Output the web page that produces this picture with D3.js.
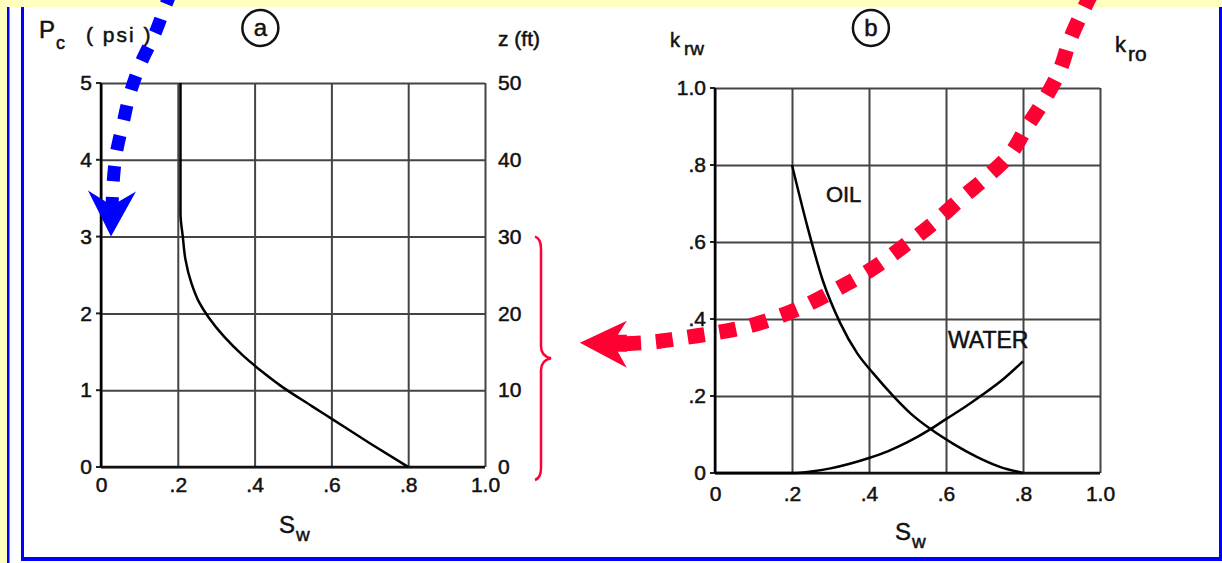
<!DOCTYPE html>
<html>
<head>
<meta charset="utf-8">
<script src="https://cdn.jsdelivr.net/npm/d3@7"></script>
<style>
  html, body { margin: 0; padding: 0; background: #ffffc0; }
  svg { display: block; font-family: "Liberation Sans", Arial, sans-serif; }
  svg text { fill: #111; stroke: #111; stroke-width: 0.5px; }
</style>
</head>
<body>
<svg id="viz" width="1222" height="563"></svg>
<script>
(function () {
  'use strict';

  // panel a: capillary pressure vs water saturation
  const pcSw  = [0.8, 0.7, 0.6, 0.55, 0.47, 0.42, 0.37, 0.32, 0.28, 0.255, 0.235, 0.22, 0.213, 0.207, 0.207];
  const pcVal = [0, 0.31, 0.63, 0.79, 1.05, 1.24, 1.45, 1.7, 1.95, 2.15, 2.4, 2.7, 3.0, 3.3, 5];

  // panel b: relative permeability
  const oilSw  = [0.2, 0.24, 0.28, 0.325, 0.37, 0.41, 0.465, 0.51, 0.56, 0.62, 0.68, 0.74, 0.8];
  const oilKr  = [0.8, 0.64, 0.5, 0.39, 0.31, 0.26, 0.198, 0.153, 0.114, 0.075, 0.042, 0.016, 0];
  const watSw  = [0, 0.2, 0.25, 0.3, 0.35, 0.4, 0.45, 0.5, 0.56, 0.6, 0.65, 0.69, 0.75, 0.8];
  const watKr  = [0, 0, 0.004, 0.012, 0.024, 0.039, 0.057, 0.08, 0.114, 0.14, 0.172, 0.2, 0.245, 0.29];

  const swTicks = [0, 0.2, 0.4, 0.6, 0.8, 1.0];
  const swLabels = ['0', '.2', '.4', '.6', '.8', '1.0'];
  const pcTicks = [0, 1, 2, 3, 4, 5];
  const zTicks = [0, 10, 20, 30, 40, 50];
  const krTicks = [0, 0.2, 0.4, 0.6, 0.8, 1.0];
  const krLabels = ['0', '.2', '.4', '.6', '.8', '1.0'];

  // annotation arrows (in each panel's data units)
  const blueArrow = [[0.185, 6.21], [0.169, 6.02], [0.141, 5.65], [0.104, 5.26], [0.076, 4.87],
                     [0.057, 4.47], [0.039, 4.06], [0.031, 3.65], [0.029, 3.40]];
  const blueTip = [0.026, 3.0];
  const redArrow = [[0.98, 1.25], [0.953, 1.195], [0.922, 1.125], [0.896, 1.047], [0.855, 0.969],
                    [0.81, 0.899], [0.769, 0.831], [0.706, 0.769], [0.644, 0.717], [0.571, 0.652],
                    [0.494, 0.592], [0.403, 0.527], [0.312, 0.475], [0.226, 0.431], [0.156, 0.403],
                    [0.078, 0.379], [0, 0.364], [-0.083, 0.351], [-0.164, 0.34], [-0.235, 0.336]];
  const redTip = [-0.351, 0.338];
  const braceZ = [30, -1.7];

  const blue = '#0000ff';
  const red = '#ff0033';

  const svg = d3.select('#viz');

  // background + frame
  svg.append('rect').attr('x', 0).attr('y', 0).attr('width', 1222).attr('height', 563).attr('fill', '#ffffc0');
  svg.append('rect').attr('x', 9).attr('y', 7).attr('width', 1213).attr('height', 556).attr('fill', '#fff');
  svg.append('rect').attr('x', 7).attr('y', 7).attr('width', 2.5).attr('height', 556).attr('fill', blue);
  svg.append('rect').attr('x', 21).attr('y', 7).attr('width', 3).attr('height', 554).attr('fill', blue);
  svg.append('rect').attr('x', 1219).attr('y', 7).attr('width', 3).attr('height', 554).attr('fill', blue);
  svg.append('rect').attr('x', 21).attr('y', 557).attr('width', 1201).attr('height', 4).attr('fill', blue);

  // scales
  const xA = d3.scaleLinear().domain([0, 1]).range([101, 485]);
  const yA = d3.scaleLinear().domain([0, 5]).range([467, 83]);
  const zA = d3.scaleLinear().domain([0, 50]).range([467, 83]);
  const xB = d3.scaleLinear().domain([0, 1]).range([715, 1100]);
  const yB = d3.scaleLinear().domain([0, 1]).range([473, 88]);

  function styleAxis(g) {
    g.attr('font-size', null).attr('font-family', null);
    g.select('.domain').remove();
    g.selectAll('.tick line').attr('stroke', '#444').attr('stroke-width', 2);
    g.selectAll('.tick text').style('font-size', '21px');
  }

  function panel(x, y, yTicks, yFmt, xPad, yPad) {
    const g = svg.append('g');
    const w = x.range()[1] - x.range()[0];
    const h = y.range()[0] - y.range()[1];
    g.append('g')
      .attr('transform', `translate(0,${y.range()[0]})`)
      .call(d3.axisBottom(x).tickValues(swTicks).tickSize(-h).tickPadding(xPad)
        .tickFormat((d, i) => swLabels[i]))
      .call(styleAxis);
    g.append('g')
      .attr('transform', `translate(${x.range()[0]},0)`)
      .call(d3.axisLeft(y).tickValues(yTicks).tickSize(-w).tickPadding(yPad).tickFormat(yFmt))
      .call(styleAxis);
    // little outside ticks
    g.selectAll('.ytk').data(yTicks).enter().append('line')
      .attr('x1', x.range()[0] - 5).attr('x2', x.range()[0])
      .attr('y1', d => y(d)).attr('y2', d => y(d))
      .attr('stroke', '#222').attr('stroke-width', 2);
    // main axes
    g.append('line').attr('x1', x.range()[0]).attr('x2', x.range()[0])
      .attr('y1', y.range()[1]).attr('y2', y.range()[0])
      .attr('stroke', '#000').attr('stroke-width', 2.5);
    g.append('line').attr('x1', x.range()[0]).attr('x2', x.range()[1])
      .attr('y1', y.range()[0]).attr('y2', y.range()[0])
      .attr('stroke', '#111').attr('stroke-width', 2.5);
    return g;
  }

  const gA = panel(xA, yA, pcTicks, d => String(d), 10, 9);
  gA.append('g')
    .attr('transform', `translate(${xA.range()[1]},0)`)
    .call(d3.axisRight(zA).tickValues(zTicks).tickSize(0).tickPadding(13).tickFormat(d => String(d)))
    .call(styleAxis);

  const gB = panel(xB, yB, krTicks, (d, i) => krLabels[i], 13, 9);

  const line = (x, y, curve) => d3.line().x(d => x(d[0])).y(d => y(d[1])).curve(curve);

  gA.append('path')
    .datum(d3.zip(pcSw, pcVal))
    .attr('d', line(xA, yA, d3.curveMonotoneY))
    .attr('fill', 'none').attr('stroke', '#000').attr('stroke-width', 2.5);

  gB.append('path')
    .datum(d3.zip(oilSw, oilKr))
    .attr('d', line(xB, yB, d3.curveMonotoneX))
    .attr('fill', 'none').attr('stroke', '#000').attr('stroke-width', 2.5);

  gB.append('path')
    .datum(d3.zip(watSw, watKr))
    .attr('d', line(xB, yB, d3.curveMonotoneX))
    .attr('fill', 'none').attr('stroke', '#000').attr('stroke-width', 2.5);

  // labels
  function subLabel(x, y, main, sub, size, subSize, dy, dx) {
    const t = svg.append('text').attr('x', x).attr('y', y).attr('font-size', size);
    t.append('tspan').text(main);
    t.append('tspan').attr('dx', dx || 1).attr('dy', dy).attr('font-size', subSize).text(sub);
    return t;
  }

  subLabel(39, 38, 'P', 'c', 24, 18, 11, 1);
  svg.append('text').attr('x', 86).attr('y', 42).attr('font-size', 21)
    .attr('letter-spacing', 2).text('( psi )');
  svg.append('text').attr('x', 498).attr('y', 46).attr('font-size', 21).text('z (ft)');

  subLabel(670, 47, 'k', 'rw', 20, 19, 8, 4);
  subLabel(1115, 52, 'k', 'ro', 22, 21, 9, 2);

  subLabel(279, 533, 'S', 'w', 24, 19, 8, 0);
  subLabel(895, 540, 'S', 'w', 24, 19, 8, 0);

  [[xA(0.415), 'a'], [xB(0.405), 'b']].forEach(([cx, s]) => {
    svg.append('circle').attr('cx', cx).attr('cy', 28).attr('r', 18)
      .attr('fill', 'none').attr('stroke', '#111').attr('stroke-width', 2.5);
    svg.append('text').attr('x', cx).attr('y', 36).attr('text-anchor', 'middle')
      .attr('font-size', 24).text(s);
  });

  gB.append('text').attr('x', xB(0.288)).attr('y', yB(0.705)).attr('font-size', 22).text('OIL');
  gB.append('text').attr('x', xB(0.605)).attr('y', yB(0.325)).attr('font-size', 23).text('WATER');

  // brace beside the z axis
  const bx = xA.range()[1] + 50;
  const bTop = zA(braceZ[0]), bBot = zA(braceZ[1]);
  const bMid = (bTop + bBot) / 2;
  svg.append('path')
    .attr('d', `M${bx},${bTop} Q${bx + 6},${bTop + 2} ${bx + 6},${bTop + 12} L${bx + 6},${bMid - 12}
      Q${bx + 6},${bMid - 2} ${bx + 16},${bMid} Q${bx + 6},${bMid + 2} ${bx + 6},${bMid + 12}
      L${bx + 6},${bBot - 12} Q${bx + 6},${bBot - 2} ${bx},${bBot}`)
    .attr('fill', 'none').attr('stroke', red).attr('stroke-width', 2.5);

  // dashed arrows
  svg.append('path')
    .datum(blueArrow)
    .attr('d', line(xA, yA, d3.curveCatmullRom))
    .attr('fill', 'none').attr('stroke', blue).attr('stroke-width', 13)
    .attr('stroke-dasharray', '15,16');
  const bt = [xA(blueTip[0]), yA(blueTip[1])];
  svg.append('path')
    .attr('d', `M${bt[0]},${bt[1]} L${bt[0] - 23},${bt[1] - 46} L${bt[0] + 1},${bt[1] - 31} L${bt[0] + 25},${bt[1] - 45} Z`)
    .attr('fill', blue);

  svg.append('path')
    .datum(redArrow)
    .attr('d', line(xB, yB, d3.curveCatmullRom))
    .attr('fill', 'none').attr('stroke', red).attr('stroke-width', 15)
    .attr('stroke-dasharray', '17,15');
  const rt = [xB(redTip[0]), yB(redTip[1])];
  svg.append('path')
    .attr('d', `M${rt[0]},${rt[1]} L${rt[0] + 47},${rt[1] - 22} L${rt[0] + 38},${rt[1] - 8}
      L${rt[0] + 47},${rt[1] - 8} L${rt[0] + 47},${rt[1] + 9} L${rt[0] + 38},${rt[1] + 9}
      L${rt[0] + 47},${rt[1] + 25} Z`)
    .attr('fill', red);
}());
</script>
</body>
</html>
